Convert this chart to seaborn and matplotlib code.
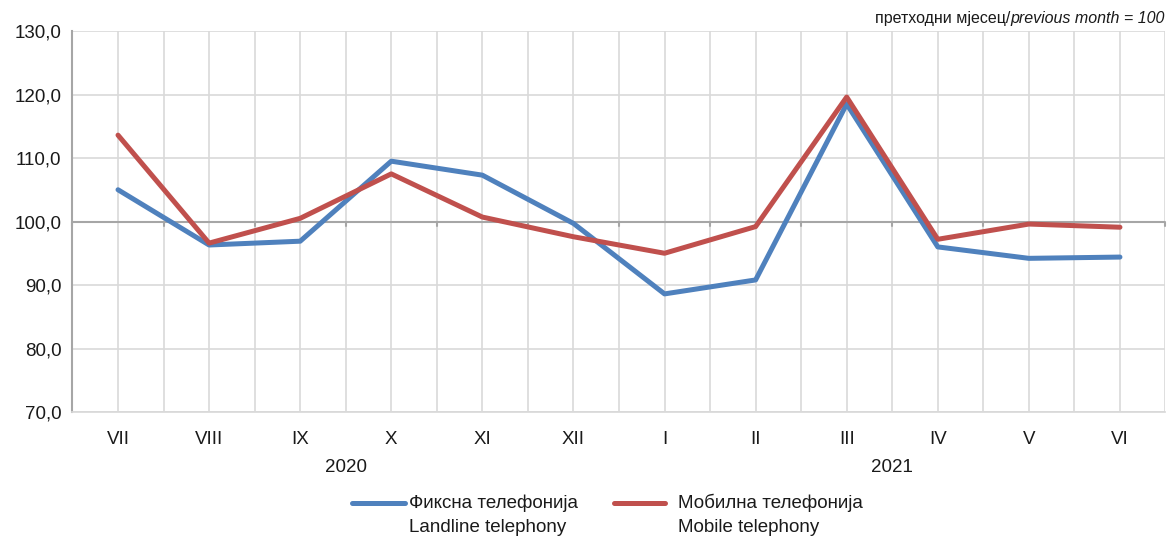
import numpy as np
import pandas as pd
import matplotlib
matplotlib.use("Agg")
import matplotlib.pyplot as plt
import seaborn as sns

months = ["VII", "VIII", "IX", "X", "XI", "XII", "I", "II", "III", "IV", "V", "VI"]
years = ["2020", "2021"]
landline = [105.0, 96.3, 96.9, 109.5, 107.3, 99.7, 88.6, 90.8, 118.5, 96.0, 94.2, 94.4]
mobile = [113.6, 96.6, 100.5, 107.5, 100.7, 97.6, 95.0, 99.2, 119.6, 97.2, 99.6, 99.1]
series_mk = ["Фиксна телефонија", "Мобилна телефонија"]
series_en = ["Landline telephony", "Mobile telephony"]
yticks = [70, 80, 90, 100, 110, 120, 130]

sns.set_theme(style="white")
plt.rcParams["font.family"] = ["Liberation Sans", "DejaVu Sans"]

df = pd.DataFrame({
    "pos": list(range(len(months))) * 2,
    "value": landline + mobile,
    "series": [series_mk[0]] * len(months) + [series_mk[1]] * len(months),
})
colors = ["#4F81BD", "#C0504D"]
txt_c = "#1a1a1a"

fig = plt.figure(figsize=(11.69, 5.4), dpi=100)
ax = fig.add_axes([0.062, 0.237, 0.935, 0.7056])

sns.lineplot(data=df, x="pos", y="value", hue="series", palette=colors,
             linewidth=3.6, ax=ax, legend=False, sort=False, zorder=3)

grid_c = "#d9d9d9"
ax.set_xlim(-0.5, len(months) - 0.5)
ax.set_ylim(70, 130)
for y in yticks:
    ax.axhline(y, color=grid_c, lw=1.2, zorder=1)
for x in np.arange(-0.5, len(months), 0.5):
    ax.axvline(x, color=grid_c, lw=1.2, zorder=1)
# horizontal axis crosses at 100
ax.axhline(100, color="#a6a6a6", lw=1.5, zorder=2)
for x in np.arange(-0.5, len(months), 1.0):
    ax.plot([x, x], [100, 99.35], color="#a6a6a6", lw=1.5, zorder=2, clip_on=False)

for s in ["top", "right"]:
    ax.spines[s].set_visible(False)
ax.spines["left"].set_color("#a6a6a6")
ax.spines["bottom"].set_color(grid_c)
ax.spines["left"].set_linewidth(1.5)

ax.set_yticks(yticks)
ax.set_yticklabels([f"{v:.1f}".replace(".", ",") for v in yticks], fontsize=13.5, color=txt_c)
ax.tick_params(axis="y", length=5, color="#a6a6a6", width=1.5, pad=3)
ax.set_xticks(range(len(months)))
ax.set_xticklabels(months, fontsize=13.5, color=txt_c)
ax.tick_params(axis="x", length=0, pad=14)
ax.set_xlabel("")
ax.set_ylabel("")

# year labels under month groups
ax.text(2.5, 61.2, years[0], ha="center", va="center", fontsize=13.5, color=txt_c)
ax.text(8.5, 61.2, years[1], ha="center", va="center", fontsize=13.5, color=txt_c)

# unit note: regular part followed directly by italic part
it = fig.text(0.9965, 0.965, "previous month = 100", ha="right", va="center",
              fontsize=11.5, style="italic", color=txt_c)
renderer = fig.canvas.get_renderer()
bb = it.get_window_extent(renderer=renderer)
fig.text(bb.x0 / fig.bbox.width, 0.965, "претходни мјесец/", ha="right", va="center",
         fontsize=11.5, color=txt_c)

# legend drawn by hand in figure coords
lx = [(352, 405, 409), (614, 665, 678)]
for (x0, x1, tx), c, mk, en in zip(lx, colors, series_mk, series_en):
    fig.lines.append(plt.Line2D([x0 / 1169, x1 / 1169], [1 - 503 / 540] * 2,
                                color=c, lw=3.6, solid_capstyle="round", transform=fig.transFigure))
    fig.text(tx / 1169, 1 - 503 / 540, mk, ha="left", va="center", fontsize=13.5, color=txt_c)
    fig.text(tx / 1169, 1 - 528 / 540, en, ha="left", va="center", fontsize=13.5, color=txt_c)

fig.savefig("out.png", dpi=100)
